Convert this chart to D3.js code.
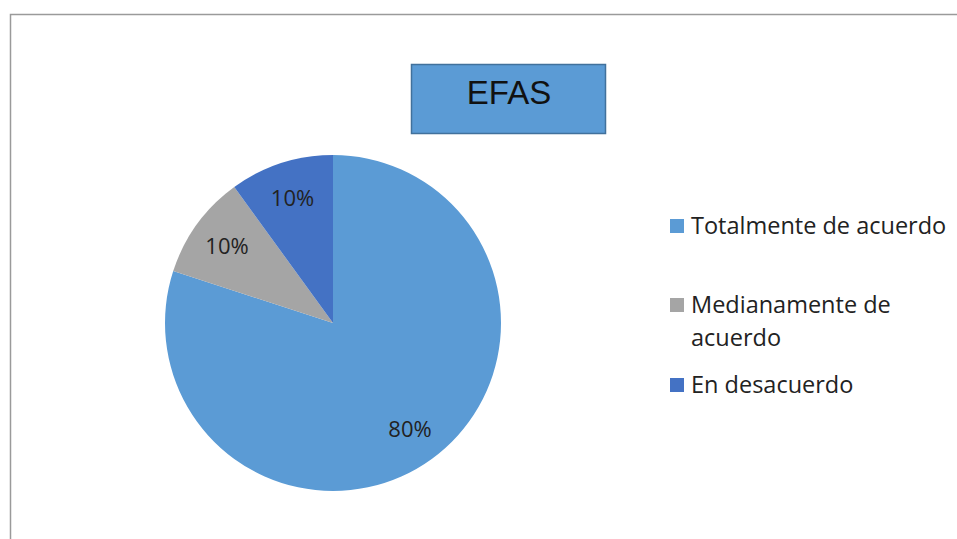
<!DOCTYPE html>
<html>
<head>
<meta charset="utf-8">
<script src="https://cdn.jsdelivr.net/npm/d3@7"></script>
<style>
  body { margin: 0; background: #fff; }
  svg { display: block; font-family: "Open Sans", sans-serif; }
</style>
</head>
<body>
<div id="chart"></div>
<script>
var categories = ["Totalmente de acuerdo", "Medianamente de acuerdo", "En desacuerdo"];
var values = [80, 10, 10];
var legendLines = [["Totalmente de acuerdo"], ["Medianamente de", "acuerdo"], ["En desacuerdo"]];
var colors = ["#5B9BD5", "#A5A5A5", "#4472C4"];
var title = "EFAS";

var width = 957, height = 539;

var svg = d3.select("#chart")
    .append("svg")
    .attr("width", width)
    .attr("height", height);

// chart frame
svg.append("rect")
    .attr("x", 10.5).attr("y", 14.5)
    .attr("width", 960).attr("height", 600)
    .attr("fill", "none")
    .attr("stroke", "#9a9a9a")
    .attr("stroke-width", 1.5);

// title box
svg.append("rect")
    .attr("x", 411.5).attr("y", 64.5)
    .attr("width", 194).attr("height", 69)
    .attr("fill", "#5B9BD5")
    .attr("stroke", "#41719C")
    .attr("stroke-width", 1.5);
svg.append("text")
    .attr("x", 509).attr("y", 95)
    .attr("text-anchor", "middle")
    .attr("dominant-baseline", "middle")
    .attr("font-family", "Liberation Sans, Arial, sans-serif")
    .attr("font-size", 33)
    .attr("fill", "#111")
    .text(title);

var color = d3.scaleOrdinal().domain(categories).range(colors);

var pie = d3.pie().sort(null).value(function(d, i) { return values[i]; });
var arcs = pie(categories);
var radius = 168;
var arc = d3.arc().innerRadius(0).outerRadius(radius);
var labelArc = d3.arc().innerRadius(131).outerRadius(131);

var g = svg.append("g").attr("transform", "translate(333,323)");

g.selectAll(".slice")
    .data(arcs)
    .enter()
    .append("path")
    .attr("class", "slice")
    .attr("d", arc)
    .attr("fill", function(d) { return color(d.data); });

g.selectAll(".lbl")
    .data(arcs)
    .enter()
    .append("text")
    .attr("class", "lbl")
    .attr("transform", function(d) { return "translate(" + labelArc.centroid(d) + ")"; })
    .attr("text-anchor", "middle")
    .attr("dy", "0.36em")
    .attr("font-size", 22)
    .attr("fill", "#222")
    .text(function(d, i) { return values[i] + "%"; });

// legend
var legendY = [226, 305, 385];
var legend = svg.selectAll(".leg")
    .data(categories)
    .enter()
    .append("g")
    .attr("class", "leg")
    .attr("transform", function(d, i) { return "translate(670," + legendY[i] + ")"; });

legend.append("rect")
    .attr("x", 0).attr("y", -7)
    .attr("width", 14).attr("height", 14)
    .attr("fill", function(d) { return color(d); });

legend.append("text")
    .attr("x", 21).attr("y", 8)
    .attr("font-size", 23.5)
    .attr("fill", "#222")
    .selectAll("tspan")
    .data(function(d, i) { return legendLines[i]; })
    .enter()
    .append("tspan")
    .attr("x", 21)
    .attr("dy", function(d, j) { return j === 0 ? 0 : 33; })
    .text(function(d) { return d; });
</script>
</body>
</html>
